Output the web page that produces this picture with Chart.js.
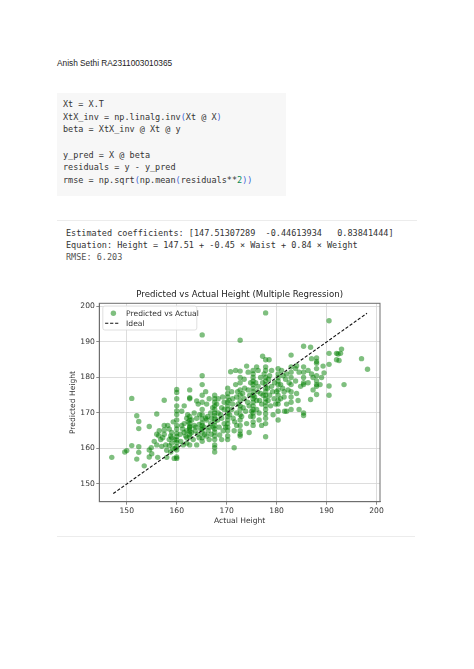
<!DOCTYPE html>
<html>
<head>
<meta charset="utf-8">
<script src="https://cdn.jsdelivr.net/npm/chart.js@4.4.0/dist/chart.umd.min.js"></script>
<style>
  body { margin: 0; background: #fff; width: 474px; height: 669px; position: relative; overflow: hidden; }
  .name { position: absolute; left: 57px; top: 58px; font: 8.3px/10px "Liberation Sans", Arial, sans-serif; color: #222; }
  .code { position: absolute; left: 57px; top: 93px; width: 229px; height: 103px; background: #f7f7f7;
          box-sizing: border-box; padding: 5px 0 0 6px; font: 8.5px/12.65px "DejaVu Sans Mono", monospace;
          color: #333; white-space: pre; }
  .p { color: #3b63d6; }
  .n { color: #0b8a55; }
  .rule { position: absolute; left: 57px; width: 360px; height: 1px; background: #ececec; }
  .out { position: absolute; left: 66px; top: 227px; font: 8.5px/12px "DejaVu Sans Mono", monospace; color: #333; white-space: pre; }
  .out .dim { color: #555; }
  #chart { position: absolute; left: 56px; top: 284px; }
</style>
</head>
<body>
<div class="name">Anish Sethi RA2311003010365</div>
<div class="code">Xt = X.T
XtX_inv = np.linalg.inv<span class="p">(</span>Xt @ X<span class="p">)</span>
beta = XtX_inv @ Xt @ y

y_pred = X @ beta
residuals = y - y_pred
rmse = np.sqrt<span class="p">(</span>np.mean<span class="p">(</span>residuals**<span class="n">2</span><span class="p">))</span></div>

<div class="rule" style="top:220px"></div>
<div class="out">Estimated coefficients: [147.51307289  -0.44613934   0.83841444]
Equation: Height = 147.51 + -0.45 × Waist + 0.84 × Weight
<span class="dim">RMSE: 6.203</span></div>

<canvas id="chart" width="344" height="244"></canvas>
<div class="rule" style="top:536px; width:358px"></div>

<script>
// Data (actual vs predicted height, cm)
const actualHeight = [
  147.0, 149.6, 150.0, 151.0, 151.0, 152.0, 152.4, 152.4, 152.0, 152.4, 152.4, 153.5,
  154.5, 154.5, 154.9, 154.5, 155.0, 156.0, 156.0, 156.4, 156.0, 156.5, 156.2,
  157.5, 157.5, 157.5, 157.2, 157.8, 158.0, 157.0, 158.5, 158.8, 159.0, 158.5, 159.2, 158.8,
  160.0, 160.0, 160.0, 160.0, 160.0, 160.0, 160.0, 160.0, 160.0, 160.0, 160.0, 160.0, 160.0, 160.0, 160.0, 160.0, 160.0, 159.7, 159.5,
  160.7, 160.8, 161.0, 161.2, 161.3, 161.5, 161.5, 161.8, 162.0, 162.0, 162.0, 162.2,
  162.6, 162.6, 162.6, 162.6, 162.6, 162.6, 162.6, 162.6, 162.6, 162.6, 162.6, 162.6, 162.6,
  163.5, 163.5, 163.7, 164.0, 164.0, 164.3, 164.5, 164.5, 164.0,
  165.1, 165.1, 165.1, 165.1, 165.1, 165.1, 165.1, 165.1, 165.1, 165.1, 165.1, 165.1, 165.1, 165.1,
  165.8, 166.0, 166.0, 166.3, 166.5, 166.8, 166.5, 166.8, 166.0,
  167.6, 167.6, 167.6, 167.6, 167.6, 167.6, 167.6, 167.6, 167.6, 167.6, 167.6, 167.6, 167.6, 167.6, 167.6, 167.6, 167.6,
  168.3, 168.3, 168.5, 168.6, 169.0, 169.0, 169.3, 169.5, 169.0, 169.5,
  170.2, 170.2, 170.2, 170.2, 170.2, 170.2, 170.2, 170.2, 170.2, 170.2, 170.2, 170.2, 170.2, 170.2,
  170.8, 171.0, 171.2, 171.3, 171.5, 171.5, 171.8, 171.8, 172.0, 172.0, 172.0,
  172.7, 172.7, 172.7, 172.7, 172.7, 172.7, 172.7, 172.7, 172.7, 172.7, 172.7, 172.7, 172.7, 172.7, 172.7,
  173.5, 173.5, 173.8, 174.0, 174.0, 174.3, 174.5, 174.5, 174.8, 174.8, 174.3,
  175.3, 175.3, 175.3, 175.3, 175.3, 175.3, 175.3, 175.3, 175.3, 175.3, 175.3, 175.3, 175.3, 175.3, 175.3, 175.3,
  176.0, 176.0, 176.3, 176.5, 176.5, 176.8, 176.8, 177.0, 177.2, 177.0, 176.3,
  177.8, 177.8, 177.8, 177.8, 177.8, 177.8, 177.8, 177.8, 177.8, 177.8, 177.8, 177.8, 177.8, 177.8, 177.8, 177.8, 177.8, 177.8,
  178.6, 178.6, 178.8, 179.0, 179.3, 179.0, 179.5, 178.5,
  180.3, 180.3, 180.3, 180.3, 180.3, 180.3, 180.3, 180.3, 180.3, 180.3, 180.3,
  181.0, 181.2, 181.5, 181.6, 181.8, 182.0, 182.3, 182.0, 182.0,
  182.9, 182.9, 182.9, 182.9, 182.9, 182.9, 182.9, 182.9, 182.9,
  183.8, 183.8, 184.0, 184.3, 184.5, 184.5, 184.8, 184.0,
  185.4, 185.4, 185.4, 185.4, 185.4, 185.4, 185.4, 185.4,
  186.3, 186.3, 186.8, 187.0, 187.0, 187.3, 186.8, 187.3,
  188.0, 188.0, 188.0, 188.0, 188.0, 188.0, 188.0, 188.0, 188.0,
  189.0, 189.3, 188.7, 189.5,
  190.5, 190.5, 190.5, 190.5, 190.5,
  192.0, 192.0, 192.3, 192.5, 192.8, 193.0, 193.5, 197.0, 198.2,
  // dense core
  161.0, 161.5, 162.0, 162.3, 163.0, 163.0, 163.3, 163.8, 164.2, 164.6,
  164.8, 165.5, 165.6, 165.8, 166.2, 166.5, 166.9, 167.0, 167.2, 167.3,
  168.0, 168.2, 168.8, 169.2, 169.5, 169.8, 170.5, 170.6, 171.0, 171.2,
  171.6, 172.2, 172.3, 173.0, 173.2, 173.3, 173.6, 174.2, 174.6, 175.0,
  175.6, 175.8, 176.0, 176.2, 176.6, 177.2, 177.3, 177.5, 178.2, 178.3,
  178.4, 179.2, 179.6, 179.8, 180.0, 180.8, 180.8, 181.3, 181.5, 182.5,
  155.5, 156.8, 157.5, 158.2, 158.5, 159.0, 159.3, 159.6, 159.0, 158.0
];
const predictedHeight = [
  157.5, 159.0, 159.4, 160.8, 174.1, 169.2, 167.6, 165.6, 157.0, 160.5, 158.9, 155.1,
  166.2, 159.6, 160.2, 157.6, 158.5, 169.7, 164.0, 163.6, 161.0, 165.0, 157.5,
  173.6, 166.5, 165.2, 163.0, 161.0, 157.5, 160.6, 162.5, 163.5, 161.5, 165.5, 160.0, 159.0,
  176.6, 175.8, 174.0, 172.0, 170.6, 169.6, 168.0, 166.5, 165.5, 164.2, 163.4, 162.4, 161.6, 160.5, 159.6, 157.6, 157.2, 160.0, 157.2,
  164.0, 162.0, 170.5, 165.5, 161.0, 172.0, 167.0, 163.5, 168.5, 165.0, 161.5, 169.5,
  176.5, 174.3, 174.0, 169.0, 168.0, 167.0, 166.2, 165.5, 164.8, 164.0, 163.2, 161.0, 166.0,
  170.0, 166.5, 165.0, 168.5, 161.0, 172.5, 163.0, 166.8, 173.4,
  192.0, 180.5, 178.0, 175.0, 173.0, 171.0, 169.5, 168.3, 167.2, 166.5, 165.5, 164.5, 163.0, 162.0,
  176.0, 172.5, 168.0, 165.0, 162.5, 170.0, 174.0, 167.0, 163.5,
  175.0, 174.0, 173.0, 172.0, 171.0, 170.0, 169.2, 168.3, 167.5, 166.5, 165.5, 164.6, 163.5, 162.5, 161.0, 159.0, 160.2,
  174.0, 170.0, 166.0, 163.8, 171.5, 168.5, 165.0, 173.0, 162.5, 167.0,
  177.0, 175.5, 174.5, 173.0, 172.0, 171.0, 170.0, 169.0, 168.0, 167.0, 166.0, 165.0, 163.5, 162.5,
  181.6, 176.0, 172.5, 168.5, 165.0, 160.2, 182.0, 178.0, 170.0, 166.5, 174.5,
  190.5, 181.8, 180.0, 178.5, 176.5, 175.0, 173.5, 172.0, 171.0, 169.5, 168.0, 166.5, 165.0, 164.0, 163.5,
  179.5, 174.0, 170.5, 183.2, 167.0, 176.5, 172.0, 164.5, 178.5, 169.0, 181.5,
  182.0, 181.0, 180.0, 179.0, 178.0, 177.0, 176.0, 175.0, 174.0, 173.0, 172.0, 171.0, 170.0, 169.0, 167.5, 166.5,
  183.0, 173.5, 177.5, 170.0, 168.0, 180.0, 175.5, 172.5, 186.0, 166.5, 182.0,
  198.2, 185.0, 183.0, 182.0, 180.0, 179.0, 178.0, 177.0, 176.0, 175.0, 174.0, 173.0, 172.0, 171.0, 169.8, 168.5, 167.0, 163.3,
  180.5, 175.0, 172.0, 177.5, 169.5, 182.0, 174.0, 185.0,
  182.5, 181.0, 180.0, 179.0, 178.0, 176.5, 175.0, 173.5, 172.5, 168.0, 170.5,
  182.0, 177.0, 174.5, 170.5, 179.5, 172.5, 176.5, 181.0, 170.5,
  186.3, 183.0, 181.5, 180.0, 178.0, 176.0, 174.5, 173.0, 171.0,
  182.5, 179.0, 175.5, 173.5, 181.5, 171.0, 177.5, 183.3,
  188.8, 183.0, 181.5, 180.0, 178.5, 178.0, 170.0, 169.3,
  182.0, 178.5, 173.8, 185.3, 181.0, 176.5, 188.5, 180.0,
  185.5, 184.5, 184.0, 182.5, 180.5, 179.0, 177.5, 175.2, 178.0,
  180.0, 183.2, 178.0, 181.3,
  196.0, 186.8, 183.7, 177.6, 175.0,
  186.8, 185.0, 186.6, 184.8, 186.8, 188.0, 178.0, 185.3, 182.3,
  // dense core
  166.5, 164.5, 163.0, 167.5, 164.5, 168.0, 162.5, 166.0, 164.0, 169.5,
  165.5, 166.0, 164.0, 168.5, 169.0, 166.0, 164.0, 168.5, 171.5, 166.0,
  172.5, 168.0, 169.5, 174.5, 171.0, 166.0, 173.5, 169.5, 171.0, 174.0,
  167.5, 176.0, 172.5, 169.0, 175.5, 171.5, 177.0, 173.0, 175.0, 170.5,
  174.5, 178.5, 171.0, 176.0, 173.5, 178.5, 175.0, 181.0, 177.0, 173.5,
  179.5, 176.0, 178.5, 172.5, 176.0, 178.0, 174.0, 180.5, 176.0, 178.5,
  162.0, 162.5, 164.0, 166.5, 160.8, 164.5, 167.5, 162.5, 163.0, 159.5
];
const idealRange = [147.3, 198.1];
const xTicks = [150, 160, 170, 180, 190, 200];
const yTicks = [150, 160, 170, 180, 190, 200];
const xLimits = [144.5, 200.7];
const yLimits = [145.0, 200.9];
const chartTitle = 'Predicted vs Actual Height (Multiple Regression)';

const axisColor = '#6f6f6f';
const gridColor = '#d4d4d4';
const textColor = '#333';
const tickFont = { family: '"DejaVu Sans", sans-serif', size: 7.6 };

// title centred over the plot area, legend inside the plot (upper left), full frame
const plotDecor = {
    id: 'plotDecor',
    afterDatasetsDraw(chart) {
        const { ctx, chartArea } = chart;
        const x0 = chartArea.left + 3.5;
        const y0 = chartArea.top + 2.7;
        ctx.save();
        ctx.fillStyle = 'rgba(255,255,255,0.85)';
        ctx.strokeStyle = '#d8d8d8';
        ctx.lineWidth = 0.8;
        ctx.beginPath();
        ctx.roundRect(x0, y0, 94, 24, 2);
        ctx.fill();
        ctx.stroke();
        ctx.font = '7.6px "DejaVu Sans"';
        ctx.textBaseline = 'middle';
        chart.data.datasets.forEach((ds, i) => {
            const cy = y0 + 7.3 + i * 10;
            if (ds.showLine) {
                ctx.strokeStyle = ds.borderColor;
                ctx.lineWidth = ds.borderWidth;
                ctx.setLineDash(ds.borderDash);
                ctx.beginPath();
                ctx.moveTo(x0 + 2.3, cy);
                ctx.lineTo(x0 + 16.6, cy);
                ctx.stroke();
                ctx.setLineDash([]);
            } else {
                ctx.fillStyle = ds.backgroundColor;
                ctx.beginPath();
                ctx.arc(x0 + 10.6, cy, ds.pointRadius, 0, Math.PI * 2);
                ctx.fill();
            }
            ctx.fillStyle = textColor;
            ctx.fillText(ds.label, x0 + 23.3, cy + 0.5);
        });
        ctx.restore();
    },
    afterDraw(chart) {
        const { ctx, chartArea } = chart;
        ctx.save();
        ctx.strokeStyle = axisColor;
        ctx.lineWidth = 1;
        ctx.strokeRect(chartArea.left, chartArea.top, chartArea.width, chartArea.height);
        ctx.fillStyle = '#222';
        ctx.font = '8.6px "DejaVu Sans"';
        ctx.textAlign = 'center';
        ctx.textBaseline = 'middle';
        ctx.fillText(chartTitle, (chartArea.left + chartArea.right) / 2, 11);
        ctx.restore();
    }
};

function keepTicks(list) {
    return scale => { scale.ticks = list.map(v => ({ value: v })); };
}

const ctx = document.getElementById('chart').getContext('2d');
new Chart(ctx, {
    type: 'scatter',
    data: {
        datasets: [{
            label: 'Predicted vs Actual',
            data: actualHeight.map((x, i) => ({ x, y: predictedHeight[i] })),
            backgroundColor: 'rgba(0,128,0,0.5)',
            borderWidth: 0,
            pointRadius: 2.7,
            order: 2
        }, {
            label: 'Ideal',
            data: idealRange.map(v => ({ x: v, y: v })),
            showLine: true,
            borderColor: '#111',
            borderWidth: 1.1,
            borderDash: [3.2, 1.8],
            pointRadius: 0,
            fill: false,
            order: 1
        }]
    },
    options: {
        responsive: false,
        animation: false,
        events: [],
        layout: { padding: { top: 19.3, right: 20, left: 0, bottom: 0 } },
        plugins: {
            legend: { display: false },
            tooltip: { enabled: false },
            title: { display: false }
        },
        scales: {
            x: {
                type: 'linear',
                min: xLimits[0],
                max: xLimits[1],
                afterBuildTicks: keepTicks(xTicks),
                afterFit: s => { s.height = 26.3; },
                grid: { color: gridColor, lineWidth: 0.8, tickColor: axisColor, tickLength: 3 },
                border: { color: axisColor, width: 1 },
                ticks: { color: textColor, font: tickFont, padding: 2, maxRotation: 0 },
                title: { display: true, text: 'Actual Height', color: textColor, font: tickFont, padding: { top: 0, bottom: 2.7 } }
            },
            y: {
                type: 'linear',
                min: yLimits[0],
                max: yLimits[1],
                afterBuildTicks: keepTicks(yTicks),
                afterFit: s => { s.width = 43.3; },
                grid: { color: gridColor, lineWidth: 0.8, tickColor: axisColor, tickLength: 3 },
                border: { color: axisColor, width: 1 },
                ticks: { color: textColor, font: tickFont, padding: 1.5 },
                title: { display: true, text: 'Predicted Height', color: textColor, font: tickFont, padding: { top: 12.1, bottom: 0 } }
            }
        }
    },
    plugins: [plotDecor]
});
</script>
</body>
</html>
